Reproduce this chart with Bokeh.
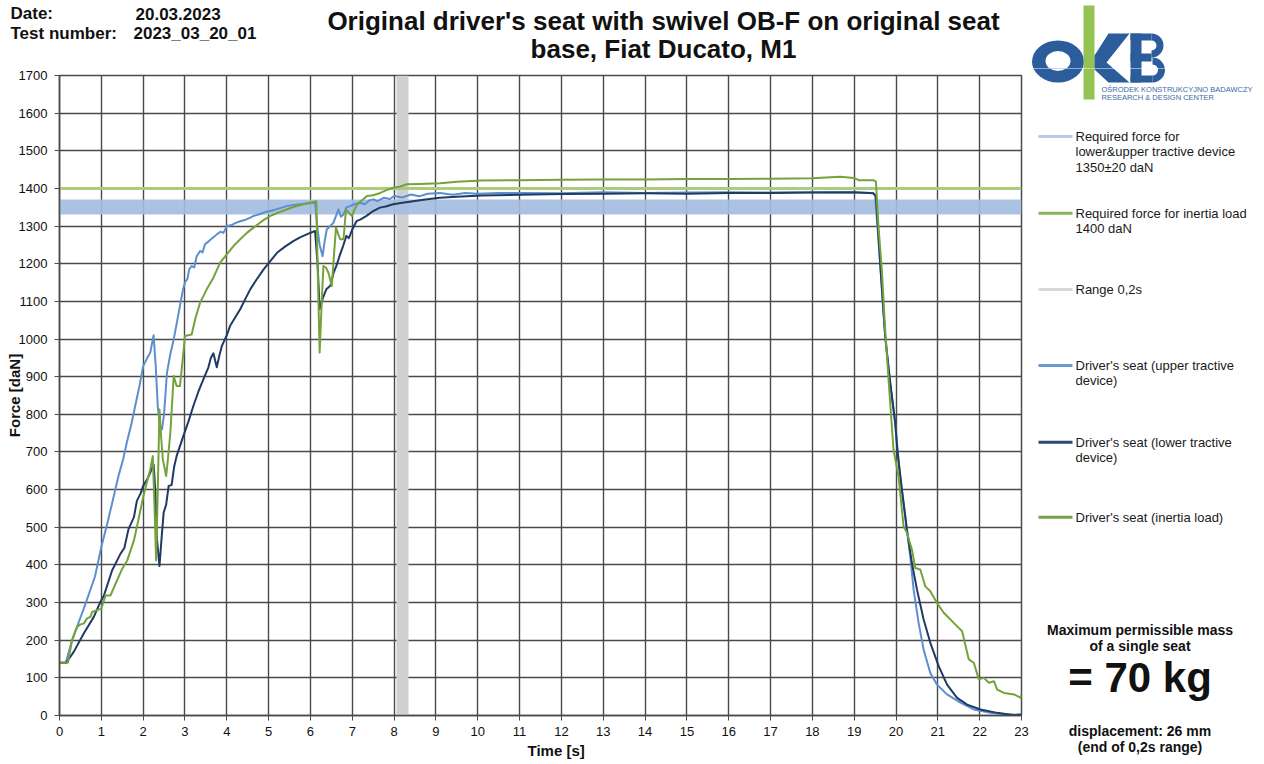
from bokeh.plotting import figure
from bokeh.layouts import row, column
from bokeh.models import Range1d, FixedTicker, Title
from bokeh.core.properties import value
from bokeh.embed import file_html
from bokeh.resources import INLINE

FONT = "Liberation Sans"

# ---------------- data (time [s], force [daN]) ----------------
UPPER = [(0, 140), (0.15, 140), (0.3, 200), (0.45, 245), (0.6, 290), (0.85, 370), (1.0, 448), (1.13, 504),
         (1.25, 560), (1.41, 636), (1.52, 680), (1.61, 725), (1.72, 775), (1.81, 822), (1.92, 880), (2.0, 928),
         (2.1, 950), (2.17, 964), (2.25, 1010), (2.3, 930), (2.35, 820), (2.4, 770), (2.45, 760), (2.5, 800),
         (2.57, 911), (2.65, 960), (2.73, 999), (2.8, 1040), (2.88, 1088), (2.95, 1130), (3.0, 1150), (3.06, 1160),
         (3.1, 1185), (3.16, 1194), (3.22, 1190), (3.28, 1220), (3.36, 1234), (3.42, 1230), (3.48, 1252),
         (3.55, 1258), (3.62, 1265), (3.7, 1272), (3.76, 1278), (3.85, 1285), (3.92, 1282), (4.0, 1300),
         (4.1, 1302), (4.2, 1308), (4.32, 1313), (4.45, 1317), (4.55, 1322), (4.64, 1327), (4.8, 1332),
         (4.95, 1338), (5.04, 1340), (5.2, 1345), (5.43, 1353), (5.65, 1357), (5.91, 1360), (6.11, 1362),
         (6.16, 1300), (6.22, 1250), (6.29, 1220), (6.34, 1260), (6.39, 1291), (6.47, 1300), (6.55, 1309),
         (6.62, 1330), (6.67, 1344), (6.73, 1325), (6.79, 1331), (6.86, 1350), (6.95, 1353), (7.05, 1358),
         (7.19, 1362), (7.3, 1358), (7.4, 1368), (7.51, 1371), (7.6, 1366), (7.75, 1375), (7.9, 1372),
         (8.0, 1380), (8.2, 1376), (8.4, 1384), (8.6, 1379), (8.8, 1386), (9.1, 1388), (9.4, 1383), (9.7, 1388),
         (10.0, 1386), (10.5, 1388), (11, 1388), (12, 1387), (13, 1390), (14, 1388), (15, 1389), (16, 1390),
         (17, 1389), (18, 1390), (19, 1389), (19.45, 1388), (19.5, 1380), (19.62, 1203), (19.74, 1008),
         (19.86, 884), (19.98, 778), (20.08, 654), (20.14, 600), (20.26, 494), (20.34, 423), (20.42, 335),
         (20.54, 246), (20.66, 175), (20.82, 113), (20.98, 82), (21.22, 56), (21.54, 34), (21.86, 16),
         (22.26, 7), (22.6, 3), (23.0, 2)]

LOWER = [(0, 140), (0.16, 140), (0.34, 169), (0.58, 218), (0.82, 262), (0.97, 300), (1.06, 318), (1.26, 386),
         (1.46, 430), (1.55, 445), (1.65, 495), (1.78, 527), (1.85, 570), (1.94, 590), (2.0, 610), (2.1, 628),
         (2.17, 645), (2.25, 667), (2.29, 600), (2.33, 470), (2.39, 397), (2.44, 470), (2.49, 539), (2.55, 560),
         (2.61, 610), (2.68, 612), (2.74, 660), (2.8, 689), (2.96, 742), (3.08, 780), (3.2, 822), (3.32, 860),
         (3.44, 893), (3.56, 925), (3.62, 950), (3.68, 962), (3.76, 925), (3.82, 955), (3.88, 981), (4.0, 1010),
         (4.08, 1035), (4.2, 1057), (4.32, 1079), (4.45, 1108), (4.56, 1132), (4.7, 1156), (4.88, 1185),
         (5.05, 1208), (5.2, 1229), (5.4, 1246), (5.59, 1260), (5.75, 1270), (5.91, 1278), (6.11, 1287),
         (6.17, 1200), (6.22, 1080), (6.3, 1110), (6.38, 1132), (6.48, 1142), (6.55, 1175), (6.62, 1194),
         (6.7, 1222), (6.78, 1247), (6.86, 1274), (6.92, 1268), (7.0, 1291), (7.1, 1313), (7.2, 1318),
         (7.34, 1327), (7.5, 1340), (7.66, 1349), (7.8, 1352), (7.98, 1358), (8.2, 1362), (8.45, 1366),
         (8.7, 1370), (9.09, 1375), (9.5, 1378), (10.1, 1381), (11, 1383), (12, 1385), (13, 1386), (14, 1387),
         (15, 1386), (16, 1388), (17, 1388), (18, 1389), (19, 1390), (19.46, 1387), (19.52, 1380),
         (19.62, 1203), (19.74, 1008), (19.86, 884), (19.98, 778), (20.03, 706), (20.14, 600), (20.26, 494),
         (20.38, 405), (20.5, 335), (20.66, 255), (20.82, 193), (21.02, 131), (21.22, 82), (21.46, 47),
         (21.7, 29), (22.02, 16), (22.42, 7), (22.82, 1), (23.0, 3)]

INERTIA = [(0, 140), (0.2, 140), (0.3, 200), (0.42, 235), (0.5, 242), (0.58, 244), (0.66, 258), (0.74, 262),
           (0.78, 275), (0.9, 280), (1.0, 284), (1.1, 319), (1.22, 319), (1.34, 350), (1.5, 390), (1.62, 412),
           (1.78, 465), (1.9, 527), (2.0, 580), (2.06, 607), (2.17, 654), (2.23, 689), (2.27, 560), (2.31, 412),
           (2.35, 600), (2.39, 813), (2.43, 740), (2.47, 681), (2.55, 636), (2.6, 690), (2.65, 751), (2.73, 902),
           (2.8, 875), (2.88, 875), (2.95, 950), (3.0, 1008), (3.16, 1012), (3.25, 1055), (3.36, 1096),
           (3.52, 1132), (3.68, 1163), (3.84, 1203), (4.0, 1225), (4.16, 1247), (4.32, 1265), (4.48, 1282),
           (4.64, 1296), (4.84, 1313), (5.04, 1327), (5.24, 1336), (5.43, 1344), (5.63, 1352), (5.83, 1358),
           (6.14, 1366), (6.17, 1200), (6.22, 964), (6.27, 1100), (6.31, 1194), (6.37, 1190), (6.43, 1176),
           (6.51, 1141), (6.56, 1220), (6.61, 1296), (6.66, 1280), (6.71, 1265), (6.79, 1265), (6.85, 1344),
           (6.92, 1335), (6.99, 1327), (7.08, 1350), (7.15, 1362), (7.25, 1370), (7.35, 1380), (7.5, 1382),
           (7.67, 1388), (7.8, 1395), (7.98, 1402), (8.15, 1405), (8.3, 1411), (8.6, 1412), (9.1, 1414),
           (9.5, 1418), (10.1, 1421), (11, 1422), (12, 1423), (13, 1424), (14, 1424), (15, 1425), (16, 1425),
           (17, 1426), (18, 1427), (18.66, 1431), (19.0, 1428), (19.1, 1422), (19.46, 1422), (19.52, 1418),
           (19.58, 1300), (19.66, 1185), (19.74, 1025), (19.86, 831), (19.94, 706), (20.06, 635), (20.18, 503),
           (20.26, 485), (20.38, 441), (20.46, 392), (20.58, 388), (20.7, 343), (20.82, 330), (20.98, 299),
           (21.14, 273), (21.38, 246), (21.58, 224), (21.74, 149), (21.86, 140), (21.98, 96), (22.1, 100),
           (22.22, 87), (22.34, 91), (22.42, 69), (22.58, 60), (22.82, 56), (22.98, 47), (23.0, 56)]

REQ_TRACTIVE = 1350          # daN
REQ_TOLERANCE = 20           # daN
REQ_INERTIA = 1400           # daN
RANGE_WINDOW = (8.06, 8.34)  # s (drawn "Range 0,2s" band)
X_MAX = 23
Y_MAX = 1700
X_TICKS = list(range(0, 24))
Y_TICKS = list(range(0, 1800, 100))

TITLE_LINES = ["Original driver's seat with swivel OB-F on original seat", "base, Fiat Ducato, M1"]
HEADER_KEYS = ["Date:", "Test number:"]
HEADER_VALUES = ["20.03.2023", "2023_03_20_01"]

LEGEND = [
    (["Required force for", "lower&upper tractive device", "1350\u00b120 daN"], "#b4cae8"),
    (["Required force for inertia load", "1400 daN"], "#8ab555"),
    (["Range 0,2s"], "#d9d9d9"),
    (["Driver's seat (upper tractive", "device)"], "#6b98d2"),
    (["Driver's seat (lower tractive", "device)"], "#2e4a73"),
    (["Driver's seat (inertia load)"], "#7aa245"),
]

C_UPPER = "#5d8fcf"
C_LOWER = "#1f3b63"
C_INERTIA = "#76a23c"
GRID = "#4a4a4a"

# page geometry (pixels)
TOTAL_W = 1262
TOTAL_H = 762
HDR_H = 68
MAIN_W = 1030
FR_LEFT, FR_RIGHT, FR_TOP, FR_BOTTOM = 59, 1021, 75, 715


def canvas(width, x0, x1, y_top, y_bottom):
    """A plain figure whose data coordinates are page pixels (y downward)."""
    f = figure(width=width, height=y_bottom - y_top, x_range=Range1d(x0, x1), y_range=Range1d(y_bottom, y_top),
               output_backend="svg", toolbar_location=None, min_border=0,
               x_axis_location=None, y_axis_location=None)
    f.grid.visible = False
    f.outline_line_color = None
    f.background_fill_color = "white"
    f.border_fill_color = "white"
    return f


def draw_logo(f):
    blue, green = "#2b5c9b", "#93c353"
    f.ellipse(x=[1057.5], y=[61], width=[52], height=[42], fill_color=blue, line_color=None)
    f.ellipse(x=[1057.5], y=[60.5], width=[25], height=[20], fill_color="white", line_color=None)
    f.quad(left=[1083], right=[1094], top=[5], bottom=[99], fill_color=green, line_color=None)
    f.patch(x=[1094, 1108, 1129, 1106, 1129, 1108, 1094], y=[55, 33, 33, 62, 82, 82, 69],
            fill_color=blue, line_color=None)
    f.quad(left=[1130, 1130, 1130, 1130], right=[1141, 1151, 1151, 1152], top=[33, 33, 53, 75],
           bottom=[82, 40, 61, 82], fill_color=blue, line_color=None)
    f.annular_wedge(x=[1151, 1152], y=[45, 69.5], inner_radius=[5, 5.5], outer_radius=[12, 12.5],
                    start_angle=-1.5708, end_angle=1.5708, fill_color=blue, line_color=None)


# ---------------- header ----------------
hdr = canvas(TOTAL_W, 0, TOTAL_W, 0, HDR_H)
hkw = dict(text_font=value(FONT), text_font_style="bold", text_baseline="middle", text_color="#111111")
hdr.text(x=[10, 10], y=[13.3, 33], text=HEADER_KEYS, text_font_size=value("17px"), **hkw)
hdr.text(x=[135, 133], y=[13.3, 33], text=HEADER_VALUES, text_font_size=value("17px"), **hkw)
hdr.text(x=[663, 663], y=[20.5, 48.5], text=TITLE_LINES, text_font_size=value("26px"), text_align="center", **hkw)
draw_logo(hdr)

# ---------------- main chart ----------------
p = figure(width=MAIN_W, height=TOTAL_H - HDR_H, x_range=Range1d(0, X_MAX), y_range=Range1d(0, Y_MAX),
           output_backend="svg", toolbar_location=None,
           min_border_left=FR_LEFT, min_border_right=MAIN_W - FR_RIGHT,
           min_border_top=FR_TOP - HDR_H, min_border_bottom=TOTAL_H - FR_BOTTOM)
p.background_fill_color = "white"
p.border_fill_color = "white"
p.outline_line_color = GRID
p.outline_line_width = 1.5

p.xaxis.ticker = FixedTicker(ticks=X_TICKS, minor_ticks=[])
p.yaxis.ticker = FixedTicker(ticks=Y_TICKS, minor_ticks=[])
for ax in (p.xaxis, p.yaxis):
    ax.major_tick_in = 0
    ax.major_tick_out = 5
    ax.minor_tick_in = 0
    ax.minor_tick_out = 0
    ax.axis_line_color = GRID
    ax.axis_line_width = 1.5
    ax.major_tick_line_color = GRID
    ax.major_label_text_font = FONT
    ax.major_label_text_font_size = "13px"
    ax.major_label_text_color = "#111111"
p.xaxis.major_label_standoff = 6
p.yaxis.major_label_standoff = 7
p.yaxis.axis_label = "Force [daN]"
p.yaxis.axis_label_text_font = FONT
p.yaxis.axis_label_text_font_size = "15px"
p.yaxis.axis_label_text_font_style = "bold"
p.yaxis.axis_label_text_color = "#111111"
p.yaxis.axis_label_standoff = -7
p.xgrid.grid_line_color = GRID
p.ygrid.grid_line_color = GRID
p.xgrid.grid_line_width = 1.4
p.ygrid.grid_line_width = 1.4
p.add_layout(Title(text="Time [s]", align="left", offset=468, standoff=2, text_font=FONT,
                   text_font_size="15px", text_font_style="bold", text_color="#111111"), "below")

p.vstrip(x0=[RANGE_WINDOW[0]], x1=[RANGE_WINDOW[1]], fill_color="#d0d0d0", line_color=None)
p.hstrip(y0=[REQ_TRACTIVE - REQ_TOLERANCE], y1=[REQ_TRACTIVE + REQ_TOLERANCE],
         fill_color="#a4bddf", fill_alpha=0.92, line_color=None)
p.hspan(y=[REQ_INERTIA], line_color="#a9cc7f", line_width=3)

for pts, col in ((UPPER, C_UPPER), (LOWER, C_LOWER), (INERTIA, C_INERTIA)):
    ts, fs = zip(*pts)
    p.line(list(ts), list(fs), line_color=col, line_width=2, line_join="round")

# ---------------- right panel: logo (lower part), legend, notes ----------------
rp = canvas(TOTAL_W - MAIN_W, MAIN_W, TOTAL_W, HDR_H, TOTAL_H)
draw_logo(rp)
rp.text(x=[1101, 1101], y=[88.5, 97], text=["O\u015aRODEK KONSTRUKCYJNO BADAWCZY", "RESEARCH & DESIGN CENTER"],
        text_font=value(FONT), text_font_size=value("7.5px"), text_color="#3a6aa8", text_baseline="middle")

leg_y = [136, 212.7, 289, 365, 441.7, 516.7]
for (lines, col), y in zip(LEGEND, leg_y):
    rp.segment(x0=[1038], y0=[y], x1=[1072], y1=[y], line_color=col, line_width=3)
    rp.text(x=[1075] * len(lines), y=[y + 15.3 * i for i in range(len(lines))], text=lines,
            text_font=value(FONT), text_font_size=value("13px"), text_color="#1a1a1a", text_baseline="middle")

nkw = dict(text_font=value(FONT), text_font_style="bold", text_align="center", text_color="#111111",
           text_baseline="middle")
rp.text(x=[1139.5, 1139.5], y=[629.3, 645], text=["Maximum permissible mass", "of a single seat"],
        text_font_size=value("14px"), **nkw)
rp.text(x=[1139.5], y=[677], text=["= 70 kg"], text_font_size=value("42px"), **nkw)
rp.text(x=[1139.5, 1139.5], y=[730.7, 746.7], text=["displacement: 26 mm", "(end of 0,2s range)"],
        text_font_size=value("14px"), **nkw)

layout = column(hdr, row(column(p), rp))
open("out.html", "w").write(file_html(layout, INLINE))
